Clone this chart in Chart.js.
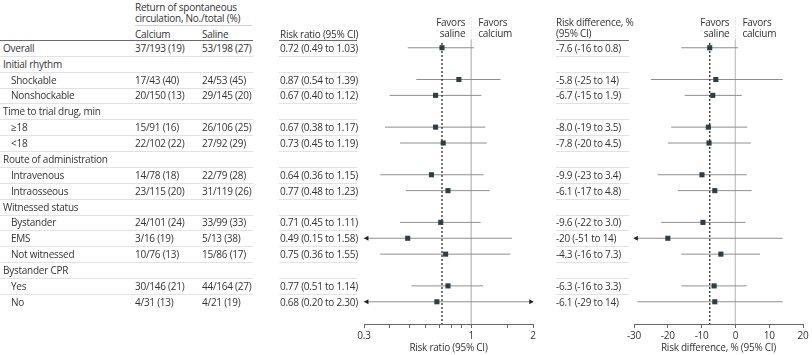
<!DOCTYPE html>
<html><head><meta charset="utf-8">
<script src="https://cdn.jsdelivr.net/npm/chart.js@4"></script>
<style>
html,body{margin:0;padding:0;background:#fff;}
#wrap{position:relative;width:812px;height:355px;overflow:hidden;font-family:"Open Sans",sans-serif;font-size:10px;letter-spacing:-0.25px;color:#333;}
.t{position:absolute;white-space:nowrap;line-height:12px;transform:translateY(-50%);}
.r{transform:translate(-100%,-50%);}
.hl{position:absolute;height:0;border-top:1px solid #e2e2e2;}
canvas{position:absolute;top:0;}
</style></head>
<body><div id="wrap">
<canvas id="rr" width="215" height="355" style="left:340px"></canvas>
<canvas id="rd" width="200" height="355" style="left:612px"></canvas>
</div>
<script>
const rowLabels = ['Overall','Initial rhythm','Shockable','Nonshockable','Time to trial drug, min','≥18','<18','Route of administration','Intravenous','Intraosseous','Witnessed status','Bystander','EMS','Not witnessed','Bystander CPR','Yes','No'];
const rowIsSub = [0,0,1,1,0,1,1,0,1,1,0,1,1,1,0,1,1];
const calcium = ['37/193 (19)','','17/43 (40)','20/150 (13)','','15/91 (16)','22/102 (22)','','14/78 (18)','23/115 (20)','','24/101 (24)','3/16 (19)','10/76 (13)','','30/146 (21)','4/31 (13)'];
const saline = ['53/198 (27)','','24/53 (45)','29/145 (20)','','26/106 (25)','27/92 (29)','','22/79 (28)','31/119 (26)','','33/99 (33)','5/13 (38)','15/86 (17)','','44/164 (27)','4/21 (19)'];
const rr = [0.72,null,0.87,0.67,null,0.67,0.73,null,0.64,0.77,null,0.71,0.49,0.75,null,0.77,0.68];
const rrLow = [0.49,null,0.54,0.40,null,0.38,0.45,null,0.36,0.48,null,0.45,0.15,0.36,null,0.51,0.20];
const rrHigh = [1.03,null,1.39,1.12,null,1.17,1.19,null,1.15,1.23,null,1.11,1.58,1.55,null,1.14,2.30];
const rd = [-7.6,null,-5.8,-6.7,null,-8.0,-7.8,null,-9.9,-6.1,null,-9.6,-20,-4.3,null,-6.3,-6.1];
const rdLow = [-16,null,-25,-15,null,-19,-20,null,-23,-17,null,-22,-51,-16,null,-16,-29];
const rdHigh = [0.8,null,14,1.9,null,3.5,4.5,null,3.4,4.8,null,3.0,14,7.3,null,3.3,14];
const rrTicks = [0.3,0.4,0.5,0.6,0.7,0.8,0.9,1,1.5,2];
const rrTickLabels = ['0.3','','','','','','','1','','2'];
const rdTicks = [-30,-20,-10,0,10,20];
const rdTickLabels = ['-30','-20','-10','0','10','20'];

const Y_MIN = -2, Y_MAX = 17.4;
const TXT = '#333';

function forest(id, est, lo, hi, o) {
  const ds = [];
  est.forEach((v,i)=>{
    if (v==null) return;
    ds.push({data:[{x:lo[i],y:i},{x:hi[i],y:i}], showLine:true, borderColor:'#8e8e8e', borderWidth:1, pointRadius:0, order:3});
  });
  const pts = [];
  est.forEach((v,i)=>{ if(v!=null) pts.push({x:v,y:i}); });
  ds.push({data:pts, pointStyle:'rect', pointRadius:3.6, backgroundColor:'#2c3f45', borderColor:'#2c3f45', borderWidth:0, order:0});
  const arr=[], rot=[];
  est.forEach((v,i)=>{
    if (v==null) return;
    if (lo[i]<o.min){arr.push({x:o.inMin,y:i});rot.push(-90);}
    if (hi[i]>o.max){arr.push({x:o.inMax,y:i});rot.push(90);}
  });
  ds.push({data:arr, pointStyle:'triangle', pointRadius:3, rotation:rot, backgroundColor:'#222', borderColor:'#222', borderWidth:0, clip:false, order:0});
  ds.push({data:[{x:o.ref,y:-0.3},{x:o.ref,y:Y_MAX}], showLine:true, borderColor:'#2a2a2a', borderWidth:1.3, borderDash:[2,2], pointRadius:0, order:1});
  ds.push({data:[{x:o.nul,y:-0.5},{x:o.nul,y:Y_MAX}], showLine:true, borderColor:'#c6c6c6', borderWidth:1, pointRadius:0, order:4});
  ds.push({data:[{x:o.nul,y:Y_MIN+0.1},{x:o.nul,y:-0.5}], showLine:true, borderColor:'#c6c6c6', borderWidth:1, borderDash:[1,2], pointRadius:0, order:4});
  return new Chart(document.getElementById(id), {
    type:'scatter',
    data:{datasets:ds},
    options:{
      responsive:false, animation:false,
      layout:{padding:{top:16,left:o.padL,right:o.padR,bottom:0}},
      plugins:{legend:{display:false},tooltip:{enabled:false}},
      scales:{
        y:{type:'linear',reverse:true,min:Y_MIN,max:Y_MAX,display:false},
        x:{type:o.type,min:o.min,max:o.max,position:'bottom',
          afterBuildTicks:(s)=>{s.ticks=o.ticks.map(v=>({value:v}));},
          afterFit:(s)=>{s.height=31;},
          grid:{drawOnChartArea:false,drawTicks:true,tickLength:4,color:'#666'},
          border:{display:true,color:'#666',width:1},
          ticks:{autoSkip:false,maxRotation:0,padding:2,color:TXT,font:{family:'"Open Sans"',size:10},
            callback:(v,i)=>o.labels[i]},
          title:{display:true,text:o.title,color:TXT,font:{family:'"Open Sans"',size:10},padding:{top:0,bottom:1}}
        }
      }
    }
  });
}

const c1 = forest('rr', rr, rrLow, rrHigh, {type:'logarithmic',min:0.3,max:2,inMin:0.31,inMax:1.95,ref:rr[0],nul:1,
  ticks:rrTicks,labels:rrTickLabels,title:'Risk ratio (95% CI)',padL:24,padR:22});
const c2 = forest('rd', rd, rdLow, rdHigh, {type:'linear',min:-30,max:20,inMin:-29.3,inMax:19.3,ref:rd[0],nul:0,
  ticks:rdTicks,labels:rdTickLabels,title:'Risk difference, % (95% CI)',padL:22,padR:9});

const wrap = document.getElementById('wrap');
function txt(s, x, y, right, extra){
  const d=document.createElement('div'); d.className='t'+(right?' r':''); d.textContent=s;
  d.style.left=x+'px'; d.style.top=y+'px'; if(extra) Object.assign(d.style,extra); wrap.appendChild(d);
}
function hl(x1,x2,y,col){
  const d=document.createElement('div'); d.className='hl'; d.style.left=x1+'px'; d.style.width=(x2-x1)+'px'; d.style.top=y+'px';
  if(col) d.style.borderTopColor=col; wrap.appendChild(d);
}
function fmt2(v){return v.toFixed(2);}
function fmtRd(v){return Math.abs(v)<10 ? v.toFixed(1) : v.toFixed(0);}

// headers
txt('Return of spontaneous',135,7);
txt('circulation, No./total (%)',135,18);
hl(135,252,25,'#cfcfcf');
txt('Calcium',135,34); txt('Saline',202,34);
txt('Risk ratio (95% CI)',280,34);
txt('Risk difference, %',556,22); txt('(95% CI)',556,33);
hl(0,253,40,'#6a6a6a'); hl(279,357,40,'#6a6a6a'); hl(556,629,40,'#6a6a6a');

// favors labels
const n1 = 340 + c1.scales.x.getPixelForValue(1);
const n2 = 612 + c2.scales.x.getPixelForValue(0);
txt('Favors',n1-6,22,true); txt('saline',n1-6,33,true);
txt('Favors',n1+7,22); txt('calcium',n1+7,33);
txt('Favors',n2-6,22,true); txt('saline',n2-6,33,true);
txt('Favors',n2+7,22); txt('calcium',n2+7,33);

// rows
rowLabels.forEach((lab,i)=>{
  const y = c1.scales.y.getPixelForValue(i);
  txt(lab, rowIsSub[i]?11:3, y);
  if (calcium[i]) txt(calcium[i],135,y);
  if (saline[i]) txt(saline[i],202,y);
  if (rr[i]!=null) txt(fmt2(rr[i])+' ('+fmt2(rrLow[i])+' to '+fmt2(rrHigh[i])+')',280,y);
  if (rd[i]!=null) txt(fmtRd(rd[i])+' ('+fmtRd(rdLow[i])+' to '+fmtRd(rdHigh[i])+')',556,y);
  if (i<rowLabels.length-1){
    const sy = Math.round(y+8);
    hl(0,253,sy); hl(279,357,sy); hl(556,629,sy);
  }
});
</script>
</body></html>
